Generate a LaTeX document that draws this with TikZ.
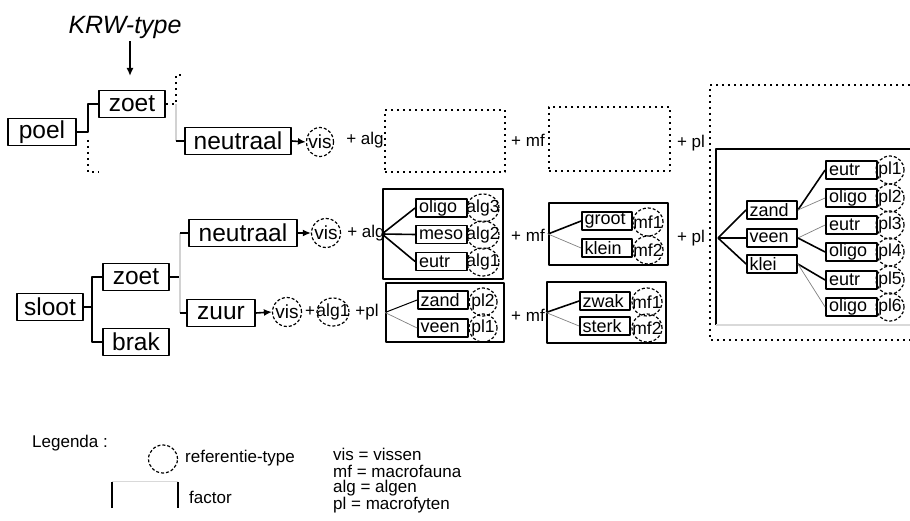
\documentclass[tikz,border=0pt]{standalone}
\usepackage{fontspec}
\setmainfont{Liberation Sans}
\usetikzlibrary{arrows.meta,shapes.geometric}
\newcommand{\rtype}[1]{\makebox[0pt]{#1}}

\begin{document}
\begin{tikzpicture}[x=1pt,y=-1pt,line join=round,
  factor/.style={draw,line width=1.8pt,inner sep=0pt,minimum height=27pt,font=\fontsize{24.5}{28}\selectfont},
  sub/.style={draw,line width=1.8pt,inner sep=0pt,minimum width=51pt,minimum height=18pt,text width=45pt,align=left,font=\fontsize{18}{20}\selectfont},
  ref/.style={ellipse,draw,dash pattern=on 3pt off 2pt,line width=1.2pt,inner sep=0pt,minimum width=29pt,minimum height=28pt,font=\fontsize{17.5}{19}\selectfont},
  plus/.style={inner sep=0pt,font=\fontsize{17}{19}\selectfont},
  kader/.style={draw,line width=2pt,inner sep=0pt},
  stip/.style={line width=2pt,dash pattern=on 2pt off 4pt,line cap=butt},
  lijn/.style={line width=1.6pt},
  dun/.style={line width=0.7pt,gray},
  pijl/.style={line width=1.6pt,-{Latex[length=8pt,width=7pt]}},
  legtekst/.style={anchor=west,inner sep=0pt,font=\fontsize{17}{19}\selectfont}]
\useasboundingbox (0,0) rectangle (910,521);

% KRW-type
\node[inner sep=0pt,font=\itshape\fontsize{25}{28}\selectfont] (krw) at (125,27) {KRW-type};
\coordinate (krwpunt) at (130,76);
\draw[pijl] ([yshift=-3pt]krw.south -| krwpunt) -- (krwpunt);

% poel
\node[factor,minimum width=68pt] (poel) at (42,132) {poel};
\node[factor,minimum width=66pt] (zoetA) at (132,104) {zoet};
\node[factor,minimum width=106pt] (neutA) at (238,141) {neutraal};
\coordinate (tak1) at (88,132);
\coordinate (brakA) at (99,172);
\coordinate (tak2) at (176,104);
\coordinate (zuurA) at (184,75);
\draw[lijn] (poel.east) -- (tak1) |- (zoetA.west);
\draw[stip] (tak1) ++(0,8) |- (brakA);
\draw[stip] (zoetA.east) -- (tak2) |- (zuurA);
\draw[line width=1.2pt,gray!35] (tak2) -- (tak2 |- neutA.west);
\draw[lijn] (tak2 |- neutA.west) -- (neutA.west);
\node[ref,font=\fontsize{19}{21}\selectfont,minimum width=27pt,minimum height=29pt] (visA) at (320,142) {\rtype{vis}};
\draw[pijl] (neutA.east) -- (visA.west);
\node[plus] (algA) at (365,140) {+ alg};
\node[kader,stip,minimum width=120pt,minimum height=62pt] (algAbox) at (445,141) {};
\node[plus] (mfA) at (528,140) {+ mf};
\node[kader,stip,minimum width=121pt,minimum height=64pt] (mfAbox) at (609.5,139) {};
\node[plus] (plA) at (691,143) {+ pl};
\draw[stip] (910,85) -| (710,340) -- (910,340);

% sloot
\node[factor,minimum width=66pt] (sloot) at (50,307) {sloot};
\node[factor,minimum width=66pt] (zoetB) at (136,277) {zoet};
\node[factor,minimum width=66pt] (brak) at (136,342) {brak};
\coordinate (tak3) at (92,307);
\draw[lijn] (sloot.east) -- (tak3);
\draw[lijn] (zoetB.west) -| (tak3) |- (brak.west);
\node[factor,minimum width=108pt] (neutB) at (243,233) {neutraal};
\node[factor,minimum width=68pt] (zuur) at (221,313) {zuur};
\coordinate (tak4) at (180,277);
\draw[lijn] (zoetB.east) -- (tak4);
\draw[line width=1.2pt,gray!35] (neutB.west -| tak4) -- (zuur.west -| tak4);
\draw[lijn] (neutB.west) -- (neutB.west -| tak4);
\draw[lijn] (zuur.west) -- (zuur.west -| tak4);

% neutraal: vis + alg + mf + pl
\node[ref,font=\fontsize{19}{21}\selectfont,minimum width=29pt,minimum height=29pt] (visB) at (326,233) {\rtype{vis}};
\draw[pijl] (neutB.east) -- (visB.west);
\node[plus] (algB) at (366,233) {+ alg};
\node[kader,minimum width=120pt,minimum height=90pt] (algBbox) at (443,234) {};
\node[sub] (oligoB) at (441.5,208) {oligo};
\node[sub] (meso) at (441.5,234.5) {meso};
\node[sub] (eutrB) at (441.5,261.5) {eutr};
\node[ref,minimum width=32pt] (alg3) at (483,208) {\rtype{alg3}};
\node[ref,minimum width=32pt] (alg2) at (483,235) {\rtype{alg2}};
\node[ref,minimum width=32pt] (alg1) at (483,262) {\rtype{alg1}};
\draw[lijn] (algBbox.west) -- (oligoB.west);
\draw[lijn] (algBbox.west) -- (meso.west);
\draw[lijn] (algBbox.west) -- (eutrB.west);
\node[plus] (mfB) at (528,235) {+ mf};
\node[kader,minimum width=119pt,minimum height=62pt] (mfBbox) at (608.5,234) {};
\node[sub,minimum width=50pt] (groot) at (607,221) {groot};
\node[sub,minimum width=50pt] (klein) at (607,248) {klein};
\node[ref,minimum width=30pt] (mf1B) at (648,222) {\rtype{mf1}};
\node[ref,minimum width=30pt] (mf2B) at (648,250) {\rtype{mf2}};
\draw[lijn] (mfBbox.west) -- (groot.west);
\draw[dun] (mfBbox.west) -- (klein.west);
\node[plus] (plB) at (691,238) {+ pl};
\draw[line width=2pt] (910,149) -| (716,325);
\draw[line width=2pt,gray!30] (716,325) -- (910,325);
\coordinate (plwaaier) at (718,238);
\node[sub,minimum width=50pt] (zandB) at (772,210) {zand};
\node[sub,minimum width=50pt] (veenB) at (772,238) {veen};
\node[sub,minimum width=50pt] (klei) at (772,264) {klei};
\draw[lijn] (plwaaier) -- (zandB.west);
\draw[lijn] (plwaaier) -- (veenB.west);
\draw[lijn] (plwaaier) -- (klei.west);
\node[sub] (bodem1) at (851.5,170) {eutr};
\node[sub] (bodem2) at (851.5,198) {oligo};
\node[sub] (bodem3) at (851.5,225) {eutr};
\node[sub] (bodem4) at (851.5,252) {oligo};
\node[sub] (bodem5) at (851.5,280) {eutr};
\node[sub] (bodem6) at (851.5,307) {oligo};
\node[ref,minimum width=28pt] (pl1) at (890,170) {\rtype{pl1}};
\node[ref,minimum width=28pt] (pl2) at (890,198) {\rtype{pl2}};
\node[ref,minimum width=28pt] (pl3) at (890,225) {\rtype{pl3}};
\node[ref,minimum width=28pt] (pl4) at (890,252) {\rtype{pl4}};
\node[ref,minimum width=28pt] (pl5) at (890,280) {\rtype{pl5}};
\node[ref,minimum width=28pt] (pl6) at (890,307) {\rtype{pl6}};
\draw[lijn] (zandB.east) -- (bodem1.west);
\draw[dun] (zandB.east) -- (bodem2.west);
\draw[dun] (veenB.east) -- (bodem3.west);
\draw[lijn] (veenB.east) -- (bodem4.west);
\draw[lijn] (klei.east) -- (bodem5.west);
\draw[dun] (klei.east) -- (bodem6.west);

% zuur: vis + alg1 + pl + mf
\node[ref,font=\fontsize{19}{21}\selectfont,minimum width=29pt,minimum height=29pt] (visC) at (287,312) {\rtype{vis}};
\draw[pijl] (zuur.east) -- (visC.west);
\node[plus] (plusC) at (310,312) {+};
\node[ref,minimum width=32pt] (alg1C) at (333,312) {\rtype{alg1}};
\node[plus] (plC) at (367,312) {+pl};
\node[kader,minimum width=118pt,minimum height=59pt] (plCbox) at (445,312.5) {};
\node[sub,minimum width=50pt] (zandC) at (443,300) {zand};
\node[sub,minimum width=50pt] (veenC) at (443,328) {veen};
\node[ref,minimum width=28pt] (pl2C) at (483,302) {\rtype{pl2}};
\node[ref,minimum width=28pt] (pl1C) at (483,328) {\rtype{pl1}};
\draw[line width=1pt] (plCbox.west) -- (zandC.west);
\draw[dun] (plCbox.west) -- (veenC.west);
\node[plus] (mfC) at (528,315) {+ mf};
\node[kader,minimum width=119pt,minimum height=61pt] (mfCbox) at (606.5,312.5) {};
\node[sub,minimum width=50pt] (zwak) at (605,301) {zwak};
\node[sub,minimum width=50pt] (sterk) at (605,326) {sterk};
\node[ref,minimum width=30pt] (mf1C) at (647,302) {\rtype{mf1}};
\node[ref,minimum width=30pt] (mf2C) at (647,328) {\rtype{mf2}};
\draw[lijn] (mfCbox.west) -- (zwak.west);
\draw[dun] (mfCbox.west) -- (sterk.west);

% legenda
\node[legtekst] (legenda) at (32,443) {Legenda :};
\node[ref,minimum width=29pt] (legcirkel) at (163,459) {};
\node[legtekst] (legref) at (185,458) {referentie-type};
\node[inner sep=0pt,minimum width=66pt,minimum height=26pt] (legkader) at (145,495) {};
\draw[line width=2pt] (legkader.south west) -- (legkader.north west);
\draw[line width=1pt,gray!30] (legkader.north west) -- (legkader.north east);
\draw[line width=2pt] (legkader.north east) -- (legkader.south east);
\node[legtekst] (legfactor) at (189,497) {factor};
\node[legtekst] (afk1) at (333,454) {vis = vissen};
\node[legtekst] (afk2) at (333,471) {mf = macrofauna};
\node[legtekst] (afk3) at (333,488) {alg = algen};
\node[legtekst] (afk4) at (333,505) {pl = macrofyten};
\end{tikzpicture}
\end{document}
